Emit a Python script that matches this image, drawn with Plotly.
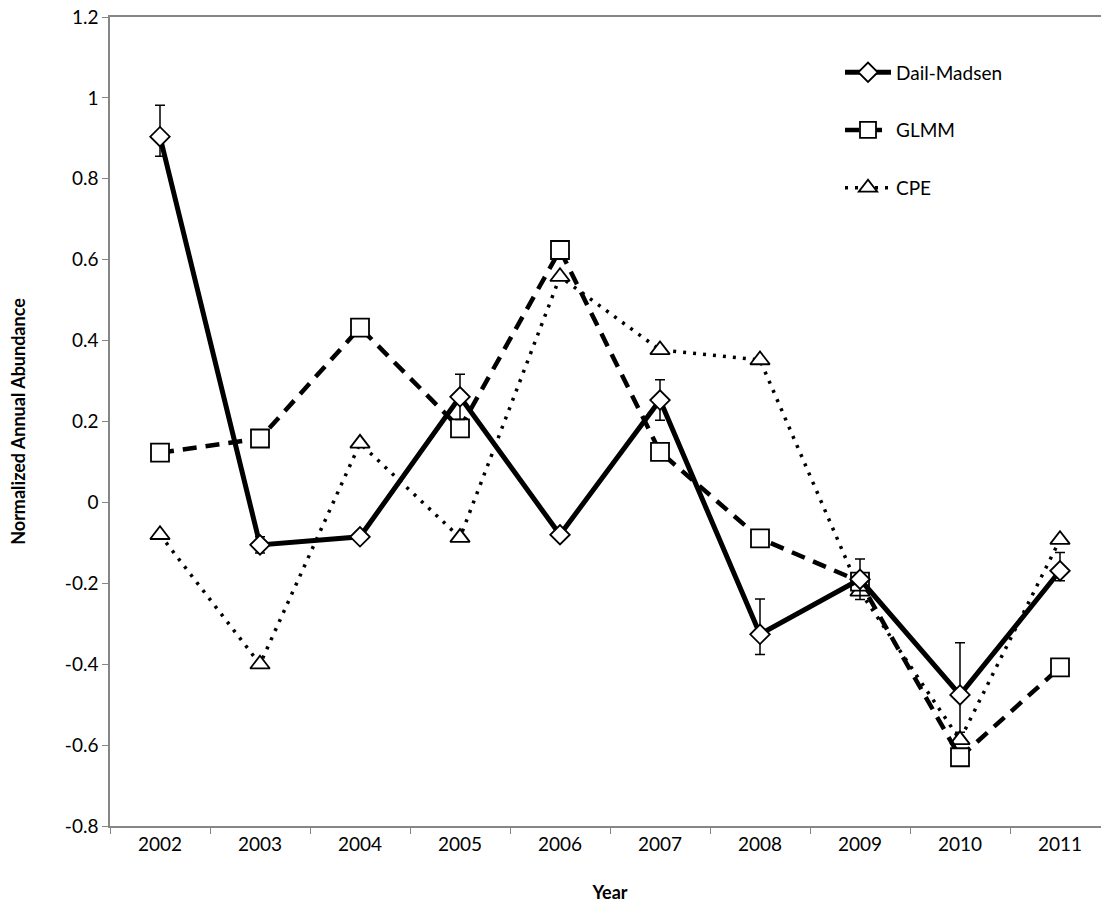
import plotly.graph_objects as go

years = ["2002", "2003", "2004", "2005", "2006", "2007", "2008", "2009", "2010", "2011"]

dail_madsen = [0.904, -0.105, -0.085, 0.261, -0.080, 0.253, -0.326, -0.190, -0.476, -0.169]
dm_err_plus = [0.078, 0.020, 0.0, 0.056, 0.0, 0.050, 0.087, 0.050, 0.129, 0.045]
dm_err_minus = [0.048, 0.020, 0.0, 0.056, 0.0, 0.050, 0.050, 0.050, 0.092, 0.025]

glmm = [0.123, 0.158, 0.432, 0.183, 0.624, 0.125, -0.089, -0.196, -0.630, -0.408]
cpe = [-0.080, -0.400, 0.146, -0.087, 0.558, 0.377, 0.352, -0.220, -0.587, -0.092]

y_ticks = [1.2, 1.0, 0.8, 0.6, 0.4, 0.2, 0.0, -0.2, -0.4, -0.6, -0.8]
y_tick_labels = ["1.2", "1", "0.8", "0.6", "0.4", "0.2", "0", "-0.2", "-0.4", "-0.6", "-0.8"]

font_family = "Lato, 'Open Sans', sans-serif"

fig = go.Figure()

# draw order: CPE at the back, Dail-Madsen on top
fig.add_trace(go.Scatter(
    x=years, y=cpe, name="CPE", mode="lines+markers",
    legendgroup="c", legendrank=3,
    line=dict(color="black", width=3.5, dash="3px,7px"),
    marker=dict(symbol="triangle-up", size=17, color="white",
                line=dict(color="black", width=1.8)),
))

fig.add_trace(go.Scatter(
    x=years, y=glmm, name="GLMM", mode="lines+markers",
    legendgroup="b", legendrank=2,
    line=dict(color="black", width=4.5, dash="14px,9px"),
    marker=dict(symbol="square", size=18, color="white",
                line=dict(color="black", width=1.8)),
))

fig.add_trace(go.Scatter(
    x=years, y=dail_madsen, name="Dail-Madsen", mode="lines+markers",
    legendgroup="a", legendrank=1,
    line=dict(color="black", width=5),
    marker=dict(symbol="diamond", size=15, color="white",
                line=dict(color="black", width=1.8)),
    error_y=dict(type="data", symmetric=False, array=dm_err_plus,
                 arrayminus=dm_err_minus, color="black", thickness=1.5, width=5),
))

# the original chart runs slightly past the right edge of the picture
fig.update_layout(
    width=1110, height=911,
    paper_bgcolor="white", plot_bgcolor="white",
    margin=dict(l=110, r=0, t=17, b=85),
    font=dict(family=font_family, size=19, color="black"),
    showlegend=True,
    legend=dict(
        x=0.73, y=0.955, xanchor="left", yanchor="top",
        bgcolor="rgba(0,0,0,0)", font=dict(size=19),
        tracegroupgap=30, itemwidth=46,
    ),
    xaxis=dict(
        type="category", range=[-0.5, len(years) - 0.5],
        tickson="boundaries", automargin=False,
        showline=True, linecolor="#868686", linewidth=1.5, mirror=True,
        ticks="outside", ticklen=6, tickcolor="#868686",
        showgrid=False, zeroline=False,
        title=dict(text="<b>Year</b>", font=dict(size=18), standoff=33),
    ),
    yaxis=dict(
        range=[-0.8, 1.2], tickvals=y_ticks, ticktext=y_tick_labels,
        automargin=False,
        showline=True, linecolor="#868686", linewidth=1.5,
        ticks="outside", ticklen=6, tickcolor="#868686",
        showgrid=False, zeroline=False,
        title=dict(text="<b>Normalized Annual Abundance</b>", font=dict(size=18), standoff=35),
    ),
)

# drop the page's default body margin so the figure sits at the window origin
fig.write_html("out.html", config={"displayModeBar": False},
               post_script="document.body.style.margin='0';document.body.style.overflow='hidden';")
